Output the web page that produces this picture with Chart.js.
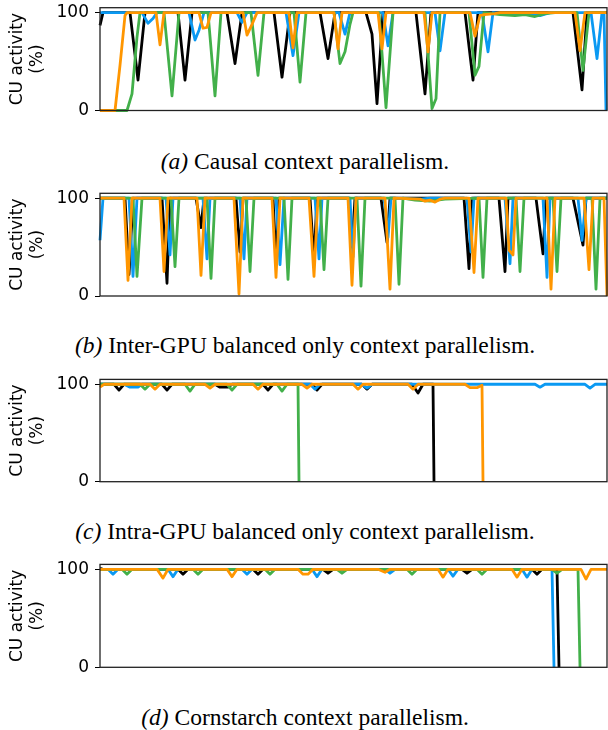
<!DOCTYPE html>
<html>
<head>
<meta charset="utf-8">
<script src="https://cdn.jsdelivr.net/npm/chart.js@4.4.0/dist/chart.umd.min.js"></script>
<style>
  body { margin: 0; background: #fff; }
  #page { position: relative; width: 608px; height: 730px; }
  .panel { position: absolute; left: 0; width: 608px; height: 125px; }
  .caption { position: absolute; left: 0; width: 610px; text-align: center; font-family: "Liberation Serif", "Times New Roman", serif; font-size: 23.5px; line-height: 26px; white-space: nowrap; color: #000; }
</style>
</head>
<body>
<div id="page">
  <div class="panel" style="top:0px"><canvas id="causal"></canvas></div>
  <div class="caption" style="top:148px"><i>(a)</i> Causal context parallelism.</div>
  <div class="panel" style="top:185px"><canvas id="inter"></canvas></div>
  <div class="caption" style="top:331.5px"><i>(b)</i> Inter-GPU balanced only context parallelism.</div>
  <div class="panel" style="top:371px"><canvas id="intra"></canvas></div>
  <div class="caption" style="top:517.5px"><i>(c)</i> Intra-GPU balanced only context parallelism.</div>
  <div class="panel" style="top:556px"><canvas id="corn"></canvas></div>
  <div class="caption" style="top:704px"><i>(d)</i> Cornstarch context parallelism.</div>
</div>
<script>
// x = time step, y = CU activity (%)
const yTicks = [0, 100];

// (a) causal
const causalBlack = [[0,87],[3,100],[30,100],[38,31],[45,100],[78,100],[85,31],[92,100],[127,100],[135,48],[142,100],[174,100],[182,34],[190,100],[220,100],[228,53],[235,100],[266,100],[272,78],[277,7],[283,100],[316,100],[325,17],[331,100],[365,100],[373,31],[378,100],[473,100],[482,21],[487,100],[507,100]];
const causalBlue = [[0,100],[42,100],[48,89],[53,94],[57,100],[89,100],[95,72],[99,82],[104,100],[137,100],[142,90],[147,100],[186,100],[193,56],[199,100],[239,100],[245,78],[250,100],[283,100],[288,66],[293,100],[335,100],[340,61],[345,100],[382,100],[388,60],[393,100],[410,98],[420,99],[430,98],[440,97],[450,100],[491,100],[497,53],[502,100],[504,100],[506,0]];
const causalGreen = [[0,0],[27,0],[32,17],[37,75],[40,100],[64,100],[72,15],[79,100],[108,100],[115,15],[121,100],[151,100],[158,36],[164,100],[194,100],[200,29],[206,100],[234,100],[240,48],[245,60],[250,88],[253,100],[279,100],[286,3],[293,100],[325,100],[332,2],[336,12],[340,100],[369,100],[375,36],[379,45],[384,100],[400,98],[415,97],[425,98],[435,96],[445,99],[455,100],[477,100],[483,41],[489,100],[507,100]];
const causalOrange = [[0,0],[15,0],[20,46],[25,97],[27,100],[56,100],[60,67],[64,100],[99,100],[103,84],[107,85],[111,100],[143,100],[147,77],[152,88],[157,100],[189,100],[193,64],[197,100],[234,100],[238,63],[242,100],[278,100],[282,63],[286,100],[324,100],[328,60],[332,100],[370,100],[375,76],[380,97],[384,98],[395,99],[400,100],[475,100],[480,61],[485,100],[507,100]];

// (b) inter-GPU balanced only
const interBlack = [[0,100],[25,100],[29,22],[33,100],[62,100],[67,13],[70,100],[96,100],[101,70],[104,100],[136,100],[140,45],[143,100],[173,100],[176,35],[179,100],[210,100],[214,35],[217,100],[249,100],[252,50],[255,100],[281,100],[287,55],[290,100],[364,100],[369,28],[372,100],[399,100],[405,25],[408,100],[436,100],[443,43],[446,100],[473,100],[483,52],[486,100],[507,100]];
const interBlue = [[0,57],[3,100],[29,100],[33,20],[37,100],[66,100],[70,42],[73,100],[103,100],[107,38],[110,100],[140,100],[144,38],[147,100],[176,100],[180,32],[184,100],[215,100],[219,38],[222,100],[250,100],[253,40],[256,100],[284,100],[288,60],[291,100],[320,99],[330,100],[367,100],[371,45],[374,100],[405,100],[410,33],[413,100],[443,100],[447,19],[450,100],[478,100],[482,57],[486,100],[507,100]];
const interGreen = [[0,100],[33,100],[37,20],[42,100],[71,100],[75,30],[79,100],[107,100],[111,18],[115,100],[146,100],[150,25],[154,100],[184,100],[188,17],[192,100],[220,100],[224,27],[228,100],[257,100],[261,10],[265,100],[295,100],[299,12],[303,100],[315,98],[330,97],[345,99],[379,100],[383,19],[387,100],[416,100],[420,25],[424,100],[453,100],[457,25],[461,100],[492,100],[496,7],[500,100],[507,100]];
const interOrange = [[0,100],[24,100],[28,16],[32,100],[60,100],[64,25],[68,100],[97,100],[101,21],[105,100],[134,100],[139,2],[143,100],[172,100],[176,19],[180,100],[209,100],[214,20],[218,100],[248,100],[252,11],[256,100],[285,100],[290,7],[294,100],[320,99],[325,97],[330,98],[335,96],[340,99],[345,100],[369,100],[374,24],[378,100],[406,100],[409,47],[413,42],[416,100],[447,100],[451,7],[455,100],[484,100],[489,27],[493,100],[504,100],[507,0]];

// (c) intra-GPU balanced only
const intraBlack = [[0,100],[14,100],[19,94],[24,100],[62,100],[67,94],[72,100],[115,100],[120,97],[128,97],[132,100],[163,100],[168,94],[173,100],[212,100],[217,94],[222,100],[262,100],[267,95],[272,100],[312,100],[318,91],[323,100],[333,100],[334,0]];
const intraBlue = [[0,100],[24,100],[30,97],[38,97],[42,100],[210,100],[215,95],[220,100],[262,100],[267,96],[272,100],[435,100],[440,97],[445,100],[485,100],[490,96],[495,100],[507,100]];
const intraGreen = [[0,100],[40,100],[45,95],[50,100],[85,100],[90,93],[95,100],[127,100],[132,94],[137,100],[177,100],[182,93],[187,100],[198,100],[199,0]];
const intraOrange = [[0,97],[4,100],[50,100],[55,95],[60,100],[105,100],[110,96],[115,100],[153,100],[158,95],[163,100],[202,100],[207,96],[212,100],[253,100],[258,95],[263,100],[308,100],[313,95],[318,100],[365,100],[370,96.5],[377,96.5],[382,99],[383,0]];

// (d) cornstarch
const cornBlack = [[0,101],[3,100],[78,100],[83,95],[88,100],[153,100],[158,95],[163,100],[223,100],[228,96],[233,100],[362,100],[367,96],[372,100],[432,100],[437,95],[442,100],[457,100],[459,0]];
const cornBlue = [[0,100],[8,100],[13,95],[18,100],[68,100],[73,92.5],[78,100],[142,100],[147,95],[152,100],[212,100],[217,92.5],[222,100],[285,100],[290,96],[295,100],[348,100],[353,93],[358,100],[422,100],[427,92],[432,100],[452,100],[454,0]];
const cornGreen = [[0,100],[22,100],[27,95],[32,100],[93,100],[98,95],[103,100],[165,100],[170,95],[175,100],[237,100],[242,96],[247,100],[307,100],[312,95],[317,100],[377,100],[382,95],[387,100],[452,100],[457,96],[462,100],[478,100],[480,0]];
const cornOrange = [[0,100],[57,100],[63,91],[68,100],[127,100],[132,92.5],[137,100],[198,100],[203,95],[208,95],[213,100],[278,100],[285,97],[290,100],[338,100],[343,92],[348,100],[412,100],[417,92],[422,100],[481,100],[486,90],[491,100],[507,100]];

const colors = ['#000000', '#0A99F2', '#42B04A', '#FF9600'];

Chart.defaults.font.family = 'DejaVu Sans';
Chart.defaults.font.size = 17;
Chart.defaults.color = '#000';

// box around the plot area, on top of the lines
const frame = {
  id: 'frame',
  afterDatasetsDraw(chart) {
    const { ctx, chartArea: a } = chart;
    ctx.save();
    ctx.strokeStyle = '#222';
    ctx.lineWidth = 1.3;
    ctx.strokeRect(a.left, a.top, a.right - a.left, a.bottom - a.top);
    ctx.restore();
  }
};

function drawPanel(id, series, padTop, padBottom) {
  const datasets = series.map((pts, i) => ({
    data: pts.map(([x, y]) => ({ x: x, y: y })),
    borderColor: colors[i],
    borderWidth: 2.8,
    pointRadius: 0,
    tension: 0,
    fill: false,
    clip: 4,
    borderJoinStyle: 'round',
    order: 3 - i // orange on top
  }));

  new Chart(document.getElementById(id), {
    type: 'line',
    data: { datasets: datasets },
    plugins: [frame],
    options: {
      responsive: true,
      maintainAspectRatio: false,
      animation: false,
      devicePixelRatio: 1,
      layout: { padding: { top: padTop, bottom: padBottom, left: 0, right: 1 } },
      plugins: { legend: { display: false }, tooltip: { enabled: false } },
      scales: {
        x: {
          type: 'linear',
          min: 0,
          max: 507,
          ticks: { display: false },
          grid: { display: false },
          border: { display: false },
          afterFit: (s) => { s.height = 0; s.paddingLeft = 0; s.paddingRight = 0; }
        },
        y: {
          min: 0,
          max: 105,
          afterBuildTicks: (s) => { s.ticks = yTicks.map((v) => ({ value: v })); },
          afterFit: (s) => { s.width = 100; s.paddingTop = 0; s.paddingBottom = 0; },
          ticks: { padding: 6, color: '#000' },
          grid: { drawOnChartArea: false, drawTicks: true, tickLength: 5, color: '#000', lineWidth: 1 },
          border: { display: false },
          title: {
            display: true,
            text: ['CU activity', '(%)'],
            padding: { top: 7, bottom: 0 },
            font: { size: 17 }
          }
        }
      }
    }
  });
}

drawPanel('causal', [causalBlack, causalBlue, causalGreen, causalOrange], 7.7, 14.5);
drawPanel('inter', [interBlack, interBlue, interGreen, interOrange], 8.3, 14);
drawPanel('intra', [intraBlack, intraBlue, intraGreen, intraOrange], 8.4, 14.3);
drawPanel('corn', [cornBlack, cornBlue, cornGreen, cornOrange], 8.4, 13.7);
</script>
</body>
</html>
